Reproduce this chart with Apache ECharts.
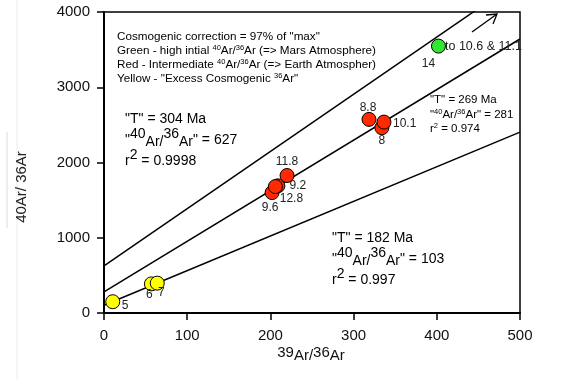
<!DOCTYPE html>
<html>
<head>
<meta charset="utf-8">
<script src="https://cdn.jsdelivr.net/npm/echarts@6/dist/echarts.min.js"></script>
<style>
  html, body { margin: 0; padding: 0; background: #fff; }
  #main { width: 566px; height: 380px; }
</style>
</head>
<body>
<div id="main"></div>
<script>
// 39Ar/36Ar vs 40Ar/36Ar isochron plot
const xTicks = [0, 100, 200, 300, 400, 500]
const yTicks = [0, 1000, 2000, 3000, 4000]

const yellowX = [10.5, 57, 64]
const yellowY = [150, 387, 397]
const yellowTags = ['5', '6', '7']

const redX = [202, 209, 206, 220, 334, 318.5, 336.5]
const redY = [1600, 1690, 1680, 1827, 2462, 2573, 2537]
const redTags = ['9.6', '9.2', '12.8', '11.8', '8', '8.8', '10.1']

const greenX = [402]
const greenY = [3547]
const greenTags = ['14']

// fitted lines (intercept = "40Ar/36Ar", slope)
const lineIntercepts = [627, 281, 103]
const lineSlopes = [7.6, 6.72, 4.6]

// label placement for each point tag
const tagPos = {
  '5': [9, 4, 'left'],
  '6': [-2, 11, 'center'],
  '7': [4, 10, 'center'],
  '9.6': [-2, 15, 'center'],
  '9.2': [20, 0, 'center'],
  '12.8': [16, 12, 'center'],
  '11.8': [0, -14, 'center'],
  '8': [0, 13, 'center'],
  '8.8': [-1, -12, 'center'],
  '10.1': [9, 2, 'left'],
  '14': [-10, 18, 'center']
}

const FONT = '"Liberation Sans", Arial, sans-serif'

function points(xs, ys, tags) {
  return xs.map(function (x, i) {
    const p = tagPos[tags[i]]
    return {
      value: [x, ys[i]],
      label: {
        show: true,
        formatter: tags[i],
        position: 'inside',
        offset: [p[0], p[1]],
        align: p[2],
        verticalAlign: 'middle',
        fontSize: 12,
        fontFamily: FONT,
        color: '#222'
      }
    }
  })
}

function dot(name, color, data) {
  return {
    name: name,
    type: 'scatter',
    symbol: 'circle',
    symbolSize: 14,
    itemStyle: { color: color, borderColor: '#000', borderWidth: 1, opacity: 1 },
    data: data,
    z: 5
  }
}

const lineSeries = lineIntercepts.map(function (b, i) {
  return {
    type: 'line',
    symbol: 'none',
    clip: true,
    lineStyle: { color: '#000', width: 1.5 },
    data: [[0, b], [500, b + lineSlopes[i] * 500]],
    z: 3
  }
})

// raised / lowered pieces of "40Ar/36Ar"
const sup14 = {
  t: { fontSize: 14, lineHeight: 22, verticalAlign: 'middle', fontFamily: FONT, fill: '#000' },
  u: { fontSize: 14, height: 10, verticalAlign: 'top', fontFamily: FONT, fill: '#000' },
  d: { fontSize: 14, height: 17, verticalAlign: 'bottom', fontFamily: FONT, fill: '#000' }
}
const sup15 = {
  t: { fontSize: 15, lineHeight: 24, verticalAlign: 'middle', fontFamily: FONT, fill: '#111' },
  u: { fontSize: 15, height: 11, verticalAlign: 'top', fontFamily: FONT, fill: '#111' },
  d: { fontSize: 15, height: 18, verticalAlign: 'bottom', fontFamily: FONT, fill: '#111' }
}
const supSmall = {
  t: { fontSize: 11.7, lineHeight: 15, verticalAlign: 'middle', fontFamily: FONT, fill: '#000' },
  s: { fontSize: 7.5, height: 8, verticalAlign: 'top', fontFamily: FONT, fill: '#000' }
}
const supMid = {
  t: { fontSize: 11.5, lineHeight: 15, verticalAlign: 'middle', fontFamily: FONT, fill: '#000' },
  s: { fontSize: 7.5, height: 8, verticalAlign: 'top', fontFamily: FONT, fill: '#000' }
}

function txt(x, y, text, rich, align) {
  return {
    type: 'text',
    x: x,
    y: y,
    z: 10,
    style: {
      text: text,
      rich: rich,
      align: align || 'left',
      verticalAlign: 'middle'
    }
  }
}

const notes = [
  // legend-like block
  txt(117, 37, '{t|Cosmogenic correction = 97% of "max"}', supSmall),
  txt(117, 51, '{t|Green - high intial }{s|40}{t|Ar/}{s|36}{t|Ar (=> Mars Atmosphere)}', supSmall),
  txt(117, 65, '{t|Red - Intermediate }{s|40}{t|Ar/}{s|36}{t|Ar (=> Earth Atmospher)}', supSmall),
  txt(117, 79, '{t|Yellow - "Excess Cosmogenic }{s|36}{t|Ar"}', supSmall),
  // top line
  txt(125, 119, '{t|"T" = 304 Ma}', sup14),
  txt(125, 140, '{t|"}{u|40}{d|Ar/}{u|36}{d|Ar}{t|" = 627}', sup14),
  txt(125, 161, '{t|r}{u|2}{t| = 0.9998}', sup14),
  // middle line
  txt(430, 100, '{t|"T" = 269 Ma}', supMid),
  txt(430, 115, '{t|"}{s|40}{t|Ar/}{s|36}{t|Ar" = 281}', supMid),
  txt(430, 129, '{t|r}{s|2}{t| = 0.974}', supMid),
  // bottom line
  txt(332, 238, '{t|"T" = 182 Ma}', sup14),
  txt(332, 259, '{t|"}{u|40}{d|Ar/}{u|36}{d|Ar}{t|" = 103}', sup14),
  txt(332, 280, '{t|r}{u|2}{t| = 0.997}', sup14),
  // green point note
  txt(445, 47, '{t|to 10.6 & 11.1}', { t: { fontSize: 12.5, fontFamily: FONT, fill: '#222' } }),
  // axis titles
  txt(311, 356, '{u|39}{d|Ar/}{u|36}{d|Ar}', sup15, 'center'),
  {
    type: 'text', x: 22, y: 187, rotation: Math.PI / 2, z: 10,
    style: { text: '40Ar/ 36Ar', fontSize: 15, fontFamily: FONT, fill: '#222', align: 'center', verticalAlign: 'middle' }
  },
  // arrow toward 10.6 & 11.1
  { type: 'polyline', z: 10, shape: { points: [[472, 32], [497, 14]] }, style: { stroke: '#000', lineWidth: 1.3 } },
  { type: 'polyline', z: 10, shape: { points: [[486, 15], [497, 14], [493, 24]] }, style: { stroke: '#000', lineWidth: 1.3, fill: null } },
  // faint page edges
  { type: 'line', z: 1, shape: { x1: 17, y1: 0, x2: 17, y2: 380 }, style: { stroke: '#ececec', lineWidth: 1 } },
  { type: 'line', z: 1, shape: { x1: 7, y1: 132, x2: 7, y2: 228 }, style: { stroke: '#dcdcdc', lineWidth: 1 } }
]

const chart = echarts.init(document.getElementById('main'))
chart.setOption({
  animation: false,
  backgroundColor: '#fff',
  grid: {
    left: 104, right: 46, top: 12, bottom: 67,
    show: true, borderColor: '#000', borderWidth: 1.5, backgroundColor: 'transparent'
  },
  xAxis: {
    type: 'value',
    min: xTicks[0],
    max: xTicks[xTicks.length - 1],
    interval: xTicks[1] - xTicks[0],
    axisLine: { show: true, onZero: false, lineStyle: { color: '#000', width: 2 } },
    axisTick: { show: true, length: 7, lineStyle: { color: '#000', width: 1.5 } },
    axisLabel: { fontSize: 15, fontFamily: FONT, color: '#111', margin: 15, formatter: function (v) { return String(v) } },
    splitLine: { show: false }
  },
  yAxis: {
    type: 'value',
    min: yTicks[0],
    max: yTicks[yTicks.length - 1],
    interval: yTicks[1] - yTicks[0],
    axisLine: { show: true, onZero: false, lineStyle: { color: '#000', width: 2 } },
    axisTick: { show: true, length: 7, lineStyle: { color: '#000', width: 1.5 } },
    axisLabel: { fontSize: 15, fontFamily: FONT, color: '#111', margin: 14, formatter: function (v) { return String(v) } },
    splitLine: { show: false }
  },
  graphic: notes,
  series: lineSeries.concat([
    dot('yellow', '#ffff00', points(yellowX, yellowY, yellowTags)),
    dot('red', '#ff2a00', points(redX, redY, redTags)),
    dot('green', '#33e633', points(greenX, greenY, greenTags))
  ])
})
</script>
</body>
</html>
